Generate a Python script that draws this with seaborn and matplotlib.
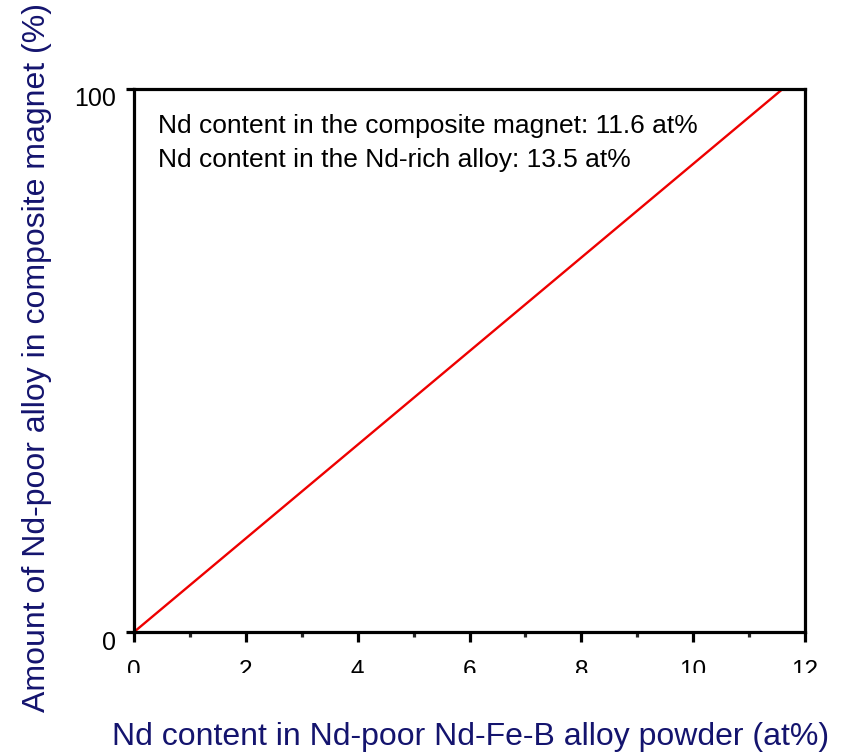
import matplotlib
matplotlib.use("Agg")
import matplotlib.pyplot as plt
from matplotlib.ticker import MultipleLocator
from matplotlib.transforms import Bbox, ScaledTranslation
import seaborn as sns
import pandas as pd

# Linear mixing relation between the two alloy endpoints
nd_poor_content = [0.0, 11.6]      # at% Nd in the Nd-poor powder
nd_poor_amount = [0.0, 100.0]      # % of Nd-poor alloy in the composite
x_ticks = [0, 2, 4, 6, 8, 10, 12]
y_ticks = [0, 100]
notes = ["Nd content in the composite magnet: 11.6 at%",
         "Nd content in the Nd-rich alloy: 13.5 at%"]

df = pd.DataFrame({"x": nd_poor_content, "y": nd_poor_amount})

sns.set_theme(style="ticks")
plt.rcParams["font.family"] = ["Liberation Sans", "DejaVu Sans"]

fig = plt.figure(figsize=(8.42, 7.55), dpi=100)
ax = fig.add_axes([134 / 842, 1 - 632 / 755, (805 - 134) / 842, (632 - 89) / 755])

sns.lineplot(data=df, x="x", y="y", ax=ax, color="#ee0000", linewidth=1.7)

ax.set_xlim(0, 12)
ax.set_ylim(0, 100)
ax.set_xticks(x_ticks)
ax.set_yticks(y_ticks)
ax.xaxis.set_minor_locator(MultipleLocator(1))

for side in ["left", "right", "top", "bottom"]:
    ax.spines[side].set_visible(True)
    ax.spines[side].set_linewidth(2.3)
    ax.spines[side].set_color("black")

ax.tick_params(axis="x", which="major", direction="out", length=7, width=2.3,
               pad=13, labelsize=17.5, colors="black")
ax.tick_params(axis="x", which="minor", direction="out", length=3.5, width=2.3)
ax.tick_params(axis="y", which="major", direction="out", length=5.5, width=2.3,
               pad=7.5, labelsize=18, colors="black")

label_color = "#14146e"
ax.set_xlabel("Nd content in Nd-poor Nd-Fe-B alloy powder (at%)",
              fontsize=23, color=label_color, va="baseline")
ax.xaxis.set_label_coords(0.5015, (632 - 745) / 543)
ax.set_ylabel("Amount of Nd-poor alloy in composite magnet (%)",
              fontsize=23, color=label_color, va="baseline")
ax.yaxis.set_label_coords((45 - 134) / 671, 0.5055)

for i, line in enumerate(notes):
    ax.text(0.036, (632 - (133 + 34.5 * i)) / 543, line, transform=ax.transAxes,
            fontsize=19, color="black", va="baseline", ha="left")

# value labels on the y axis sit a little below their ticks
shift = ScaledTranslation(0, -8 / 100, fig.dpi_scale_trans)
for lab in ax.get_yticklabels():
    lab.set_transform(lab.get_transform() + shift)

# bottom tick numbers are cut off by the frame edge
fig.canvas.draw()
clip = Bbox.from_extents(0, 755 - 673, 842, 755)
for lab in ax.get_xticklabels():
    lab.set_clip_box(clip)
    lab.set_clip_on(True)

fig.savefig("out.png", dpi=100)
